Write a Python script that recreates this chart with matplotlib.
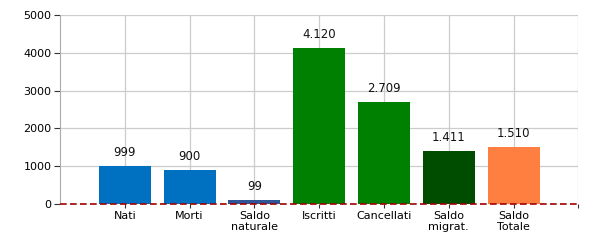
import matplotlib.pyplot as plt

# chart data
categories = ['Nati', 'Morti', 'Saldo\nnaturale', 'Iscritti', 'Cancellati', 'Saldo\nmigrat.', 'Saldo\nTotale']
values = [999, 900, 99, 4120, 2709, 1411, 1510]
labels = ['999', '900', '99', '4.120', '2.709', '1.411', '1.510']
colors = ['#0070c0', '#0070c0', '#2f5597', '#008000', '#008000', '#004d00', '#ff7f40']

fig = plt.figure(figsize=(6, 2.5), dpi=100)
ax = fig.add_axes([0.1, 0.184, 0.864, 0.756])

x = list(range(len(categories)))
ax.bar(x, values, width=0.8, color=colors, zorder=2)

# value labels above bars
for i, v in enumerate(values):
    ax.text(i, v + 180, labels[i], ha='center', va='bottom', fontsize=8.5, color='#111111')

ax.set_xlim(-1, 7)
ax.set_ylim(0, 5000)
ax.set_yticks([0, 1000, 2000, 3000, 4000, 5000])
ax.set_xticks(x + [7])
ax.set_xticklabels(categories + [''], fontsize=8, linespacing=1.1)
ax.tick_params(axis='y', labelsize=8, length=4, color='#333333', pad=2)
ax.tick_params(axis='x', length=3, color='#333333', pad=2)

ax.grid(True, color='#cccccc', linewidth=0.9, zorder=0)
ax.set_axisbelow(True)

for s in ['top', 'right']:
    ax.spines[s].set_visible(False)
ax.spines['left'].set_color('#aaaaaa')
ax.spines['bottom'].set_visible(False)

# zero line
ax.axhline(0, color='#a00000', linewidth=1.2, linestyle=(0, (4, 2)), zorder=3, clip_on=False)

fig.savefig('out.png', dpi=100)
